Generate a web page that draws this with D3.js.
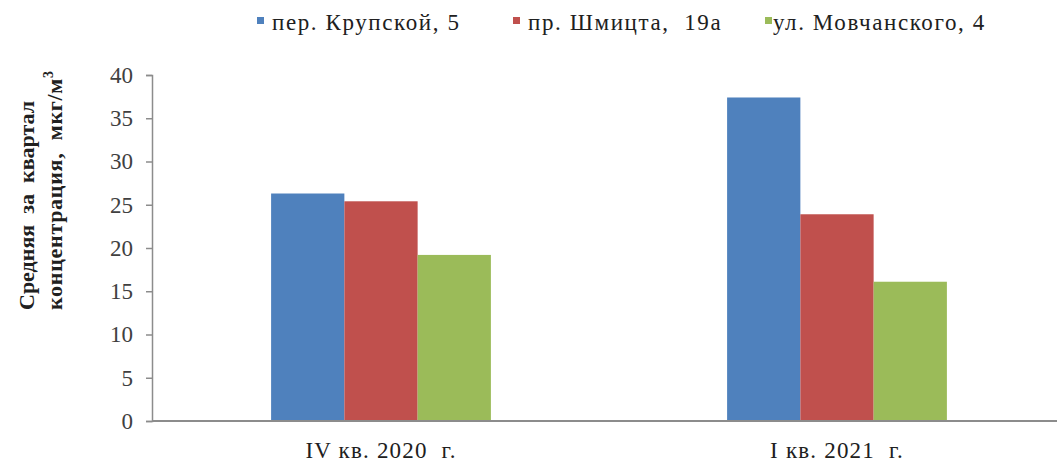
<!DOCTYPE html>
<html>
<head>
<meta charset="utf-8">
<script src="https://cdn.jsdelivr.net/npm/d3@7"></script>
<style>
  body { margin: 0; background: #fff; }
</style>
</head>
<body>
<svg class="chart" width="1057" height="465"></svg>
<script>
const categories = ["IV кв. 2020 г.", "I кв. 2021 г."];
const seriesNames = ["пер. Крупской, 5", "пр. Шмицта,  19а", "ул. Мовчанского, 4"];
const krupskoy = [26.3, 37.4];
const shmidta = [25.4, 23.9];
const movchanskogo = [19.2, 16.1];
const yTicks = [0, 5, 10, 15, 20, 25, 30, 35, 40];
const colors = ["#4f81bd", "#c0504d", "#9bbb59"];

const serif = "'Liberation Serif', 'DejaVu Serif', 'Times New Roman', Times, serif";

const seriesValues = [krupskoy, shmidta, movchanskogo];
const rows = categories.map((c, i) => ({
  category: c,
  values: seriesValues.map((v, s) => ({ series: s, value: v[i] }))
}));

let svg = d3.select(".chart").attr("font-family", serif);

let y = d3.scaleLinear().domain([0, 40]).range([421, 75]);
let x0 = d3
  .scaleBand()
  .domain(categories)
  .range([153, 1065])
  .paddingInner(0.518)
  .paddingOuter(0.259);
let x1 = d3
  .scaleBand()
  .domain(d3.range(seriesNames.length))
  .range([0, x0.bandwidth()]);

// y axis
let yAxis = svg
  .append("g")
  .attr("transform", "translate(152,0)")
  .call(d3.axisLeft(y).tickValues(yTicks).tickSize(6).tickPadding(13))
  .attr("font-family", serif);
yAxis.select(".domain").attr("stroke", "#8c8c8c").attr("stroke-width", 1.5);
yAxis.selectAll(".tick line").attr("stroke", "#8c8c8c").attr("stroke-width", 1.5);
yAxis
  .selectAll(".tick text")
  .attr("fill", "#404040")
  .style("font-size", "23px")
  .style("font-family", serif);

// bars
let groups = svg
  .selectAll(".group")
  .data(rows)
  .enter()
  .append("g")
  .attr("class", "group")
  .attr("transform", (d) => "translate(" + x0(d.category) + ",0)");

groups
  .selectAll("rect")
  .data((d) => d.values)
  .enter()
  .append("rect")
  .attr("x", (d) => x1(d.series))
  .attr("width", x1.bandwidth())
  .attr("y", (d) => y(d.value))
  .attr("height", (d) => y(0) - y(d.value))
  .attr("fill", (d) => colors[d.series]);

// x axis line
svg
  .append("line")
  .attr("x1", 152)
  .attr("x2", 1057)
  .attr("y1", y(0))
  .attr("y2", y(0))
  .attr("stroke", "#8c8c8c")
  .attr("stroke-width", 2);

svg
  .selectAll(".xlabel")
  .data(categories)
  .enter()
  .append("text")
  .attr("class", "xlabel")
  .attr("x", (d) => x0(d) + x0.bandwidth() / 2)
  .attr("y", 458)
  .attr("text-anchor", "middle")
  .attr("fill", "#202020")
  .style("font-family", serif)
  .style("font-size", "23px")
  .style("letter-spacing", "1.2px")
  .style("white-space", "pre")
  .text((d) => d.replace(/ г\.$/, "  г."));

// y title
let title = svg
  .append("text")
  .attr("transform", "translate(34,310) rotate(-90)")
  .attr("fill", "#202020")
  .style("font-family", serif)
  .style("font-size", "22px")
  .style("font-weight", "bold")
  .style("white-space", "pre");
title.append("tspan").attr("x", 0).attr("y", 0).text("Средняя  за  квартал");
let line2 = title
  .append("tspan")
  .attr("x", 0)
  .attr("y", 28)
  .style("letter-spacing", "0.7px")
  .text("концентрация,  мкг/м");
line2.append("tspan").attr("dy", -9).style("font-size", "14px").text("3");

// legend
let legendX = [257, 513, 765];
let legend = svg
  .selectAll(".legend")
  .data(seriesNames)
  .enter()
  .append("g")
  .attr("class", "legend")
  .attr("transform", (d, i) => "translate(" + legendX[i] + ",0)");
legend
  .append("rect")
  .attr("x", 0)
  .attr("y", 17)
  .attr("width", 7)
  .attr("height", 7)
  .attr("fill", (d, i) => colors[i]);
legend
  .append("text")
  .attr("x", (d, i) => (i === 2 ? 8 : 15))
  .attr("y", 30)
  .attr("fill", "#202020")
  .style("font-family", serif)
  .style("font-size", "23px")
  .style("letter-spacing", "1.6px")
  .style("white-space", "pre")
  .text((d) => d);
</script>
</body>
</html>
